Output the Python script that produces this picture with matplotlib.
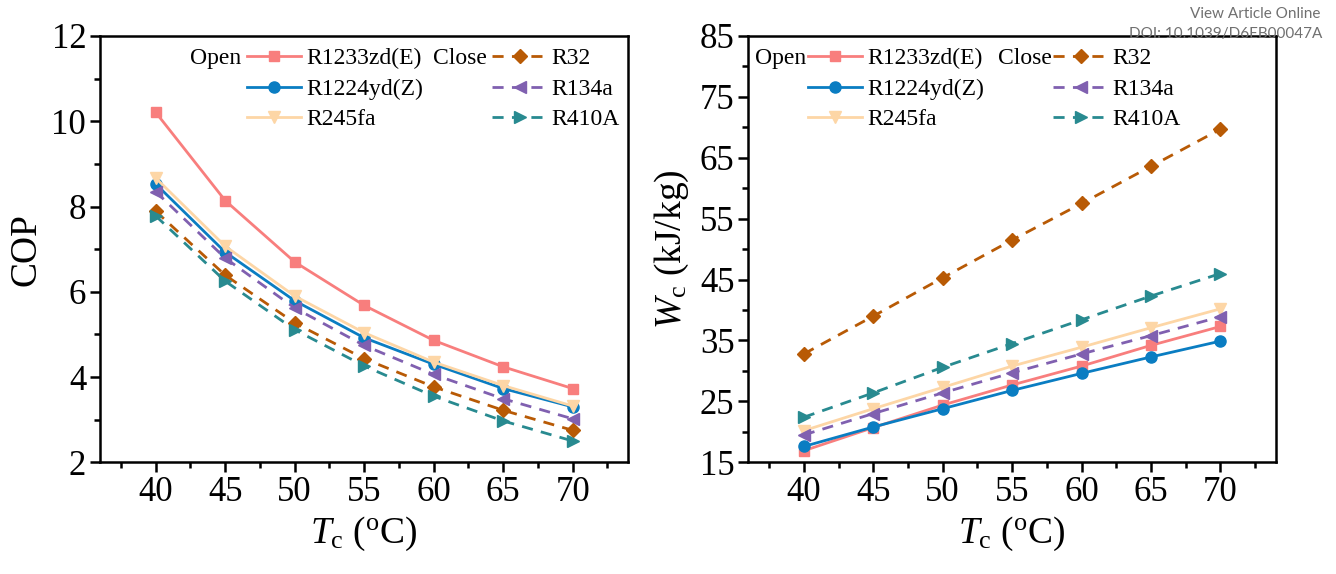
import matplotlib
matplotlib.use("Agg")
import matplotlib.pyplot as plt
from matplotlib.ticker import MultipleLocator, FixedLocator

plt.rcParams['font.family'] = ['Liberation Serif', 'DejaVu Serif']
plt.rcParams['mathtext.fontset'] = 'custom'
plt.rcParams['mathtext.rm'] = 'Liberation Serif'
plt.rcParams['mathtext.it'] = 'Liberation Serif:italic'

tc = [40, 45, 50, 55, 60, 65, 70]
names = ['R1233zd(E)', 'R1224yd(Z)', 'R245fa', 'R32', 'R134a', 'R410A']

# COP
cop_r1233 = [10.21, 8.14, 6.70, 5.68, 4.86, 4.24, 3.73]
cop_r1224 = [8.53, 6.93, 5.79, 4.92, 4.30, 3.73, 3.30]
cop_r245 = [8.67, 7.07, 5.90, 5.04, 4.35, 3.80, 3.32]
cop_r32 = [7.89, 6.39, 5.27, 4.43, 3.77, 3.22, 2.75]
cop_r134 = [8.35, 6.79, 5.62, 4.74, 4.06, 3.49, 3.02]
cop_r410 = [7.78, 6.25, 5.11, 4.26, 3.55, 2.97, 2.50]

# Wc (kJ/kg)
wc_r1233 = [16.9, 20.7, 24.4, 27.7, 30.8, 34.2, 37.3]
wc_r1224 = [17.6, 20.8, 23.8, 26.8, 29.6, 32.3, 34.9]
wc_r245 = [20.2, 23.8, 27.3, 30.8, 33.9, 37.1, 40.2]
wc_r32 = [32.8, 39.0, 45.3, 51.5, 57.5, 63.6, 69.7]
wc_r134 = [19.5, 23.0, 26.4, 29.7, 32.8, 35.8, 38.9]
wc_r410 = [22.4, 26.4, 30.6, 34.5, 38.4, 42.3, 46.0]

cop_ticks = [2, 4, 6, 8, 10, 12]
wc_ticks = [15, 25, 35, 45, 55, 65, 75, 85]

colors = ['#F87E7D', '#0A7DC2', '#FDD6A6', '#B85A05', '#8060B0', '#288A90']
markers = ['s', 'o', 'v', 'D', '<', '>']
styles = ['-', '-', '-', (0, (4, 3)), (0, (4, 3)), (0, (4, 3))]
msizes = [7, 8, 9, 7, 9, 9]

fig = plt.figure(figsize=(13.36, 5.74), dpi=100)
ax1 = fig.add_axes([0.0749, 0.1946, 0.3954, 0.7427])
ax2 = fig.add_axes([0.5601, 0.1946, 0.3950, 0.7427])


def draw(ax, series, ticks, ylabel, leg_x):
    for i, ys in enumerate(series):
        ax.plot(tc, ys, color=colors[i], marker=markers[i], ls=styles[i],
                lw=2, ms=msizes[i], label=names[i])
    ax.set_xlim(36, 74)
    ax.set_ylim(ticks[0], ticks[-1])
    ax.xaxis.set_major_locator(MultipleLocator(5))
    ax.xaxis.set_minor_locator(MultipleLocator(2.5))
    ax.yaxis.set_major_locator(FixedLocator(ticks))
    half = (ticks[1] - ticks[0]) / 2
    ax.yaxis.set_minor_locator(FixedLocator([t + half for t in ticks[:-1]]))
    ax.tick_params(which='both', direction='out', width=1.8, labelsize=25)
    ax.tick_params(which='major', length=7, pad=3)
    ax.tick_params(which='minor', length=4)
    for s in ax.spines.values():
        s.set_linewidth(1.8)
    ax.set_xlabel(r'$T_\mathrm{c}$ ($^\mathrm{o}$C)', fontsize=27, labelpad=4)
    ax.set_ylabel(ylabel, fontsize=27, labelpad=6)
    leg = ax.legend(ncol=2, loc='upper left', bbox_to_anchor=(leg_x, 0.972),
                    frameon=False, fontsize=17, handlelength=2.3,
                    handletextpad=0.2, columnspacing=2.95, labelspacing=0.38,
                    borderpad=0, borderaxespad=0)
    return leg


leg1 = draw(ax1, [cop_r1233, cop_r1224, cop_r245, cop_r32, cop_r134, cop_r410],
            cop_ticks, 'COP', 0.278)
leg2 = draw(ax2, [wc_r1233, wc_r1224, wc_r245, wc_r32, wc_r134, wc_r410],
            wc_ticks, r'$W_\mathrm{c}$ (kJ/kg)', 0.113)

# "Open" / "Close" group labels to the left of each legend column
fig.canvas.draw()
inv = fig.transFigure.inverted()
for leg, gap in [(leg1, 6), (leg2, 2)]:
    texts = leg.get_texts()
    for idx, word in [(0, 'Open'), (3, 'Close')]:
        bb = texts[idx].get_window_extent()
        fs_px = 17 * 100 / 72
        xh = bb.x0 - (2.3 + 0.2) * fs_px - gap
        yc = (bb.y0 + bb.y1) / 2
        x, y = inv.transform((xh, yc))
        fig.text(x, y, word, ha='right', va='center', fontsize=17)

fig.text(0.988, 0.975, 'View Article Online', ha='right', va='center',
         fontsize=11, color='#707070', family=['Lato', 'DejaVu Sans'])
fig.text(0.990, 0.940, 'DOI: 10.1039/D6EB00047A', ha='right', va='center',
         fontsize=11, color='#707070', family=['Lato', 'DejaVu Sans'])

fig.savefig('out.png', dpi=100)
